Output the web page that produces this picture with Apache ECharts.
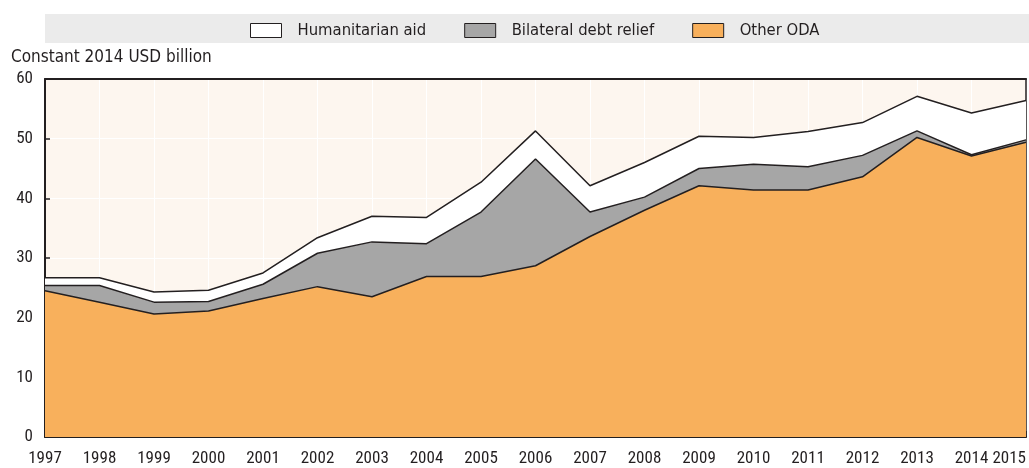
<!DOCTYPE html>
<html>
<head>
<meta charset="utf-8">
<script src="https://cdn.jsdelivr.net/npm/echarts@6/dist/echarts.min.js"></script>
<style>
  html, body { margin: 0; padding: 0; background: #fff; }
  #chart { width: 1029px; height: 468px; }
</style>
</head>
<body>
<div id="chart"></div>
<script>
// 数据 (Constant 2014 USD billion)
const years = ['1997', '1998', '1999', '2000', '2001', '2002', '2003', '2004', '2005', '2006',
  '2007', '2008', '2009', '2010', '2011', '2012', '2013', '2014', '2015'];
const otherOda = [24.5, 22.6, 20.6, 21.1, 23.2, 25.2, 23.5, 26.9, 26.9, 28.7,
  33.6, 38.0, 42.1, 41.4, 41.4, 43.6, 50.2, 47.1, 49.4];
const debtRelief = [0.9, 2.8, 2.0, 1.6, 2.4, 5.6, 9.2, 5.5, 10.8, 17.9,
  4.1, 2.2, 2.9, 4.3, 3.9, 3.6, 1.1, 0.2, 0.4];
const humanitarian = [1.3, 1.3, 1.7, 1.9, 1.9, 2.6, 4.3, 4.4, 5.0, 4.7,
  4.4, 5.8, 5.4, 4.5, 5.9, 5.5, 5.8, 7.0, 6.6];
const yTicks = [0, 10, 20, 30, 40, 50, 60];

const TICK_FONT = '"Roboto Condensed", "Liberation Sans Narrow", sans-serif';
const TEXT_FONT = '"DejaVu Sans Condensed", "DejaVu Sans", sans-serif';
const DARK = '#231f20';

const chart = echarts.init(document.getElementById('chart'));

// 每个系列共用的样式
function areaSeries(name, data, fill) {
  return {
    name: name,
    type: 'line',
    stack: 'oda',
    data: data,
    symbol: 'none',
    lineStyle: { color: DARK, width: 1.5 },
    itemStyle: { color: fill, borderColor: DARK, borderWidth: 1 },
    areaStyle: { color: fill, opacity: 1 },
    emphasis: { disabled: true }
  };
}

const option = {
  animation: false,
  textStyle: { fontFamily: TICK_FONT },
  graphic: [
    // 图例背景条
    { type: 'rect', left: 45, top: 14, shape: { width: 984, height: 29 }, style: { fill: '#ebebeb' }, z: -1 }
  ],
  title: {
    text: 'Constant 2014 USD billion',
    left: 11,
    top: 49,
    padding: 0,
    textStyle: { fontFamily: TEXT_FONT, fontSize: 17, fontWeight: 'normal', color: DARK }
  },
  legend: {
    data: ['Humanitarian aid', 'Bilateral debt relief', 'Other ODA'],
    left: 250,
    top: 22,
    padding: 0,
    itemWidth: 31,
    itemHeight: 14,
    itemGap: 38,
    icon: 'rect',
    itemStyle: { borderColor: DARK, borderWidth: 1 },
    textStyle: { fontFamily: TEXT_FONT, fontSize: 16.5, color: DARK, padding: [0, 0, 0, 11] }
  },
  grid: {
    left: 45,
    right: 1,
    top: 79,
    bottom: 31,
    show: true,
    backgroundColor: '#fdf6ef',
    borderWidth: 0
  },
  xAxis: [
    {
      type: 'category',
      data: years,
      boundaryGap: false,
      axisLine: { onZero: false, lineStyle: { color: DARK, width: 2 } },
      axisTick: { show: true, inside: true, length: 6, lineStyle: { color: DARK, width: 1.5 } },
      axisLabel: { color: DARK, fontSize: 17, margin: 13, interval: 0, alignMaxLabel: 'right' },
      splitLine: { show: true, lineStyle: { color: '#ffffff', width: 1 } }
    },
    {
      // 顶部边框
      type: 'category',
      position: 'top',
      data: years,
      boundaryGap: false,
      axisLine: { onZero: false, lineStyle: { color: DARK, width: 2 } },
      axisTick: { show: false },
      axisLabel: { show: false }
    }
  ],
  yAxis: [
    {
      type: 'value',
      min: yTicks[0],
      max: yTicks[yTicks.length - 1],
      interval: 10,
      axisLine: { show: true, onZero: false, lineStyle: { color: DARK, width: 2 } },
      axisTick: { show: true, inside: true, length: 5, lineStyle: { color: DARK, width: 1.5 } },
      axisLabel: { color: DARK, fontSize: 17, margin: 12 },
      splitLine: { show: true, lineStyle: { color: '#ffffff', width: 1 } }
    },
    {
      // 右侧边框
      type: 'value',
      position: 'right',
      min: yTicks[0],
      max: yTicks[yTicks.length - 1],
      axisLine: { show: true, onZero: false, lineStyle: { color: DARK, width: 1.5 } },
      axisTick: { show: false },
      axisLabel: { show: false },
      splitLine: { show: false }
    }
  ],
  series: [
    areaSeries('Other ODA', otherOda, '#f8b05c'),
    areaSeries('Bilateral debt relief', debtRelief, '#a6a6a6'),
    areaSeries('Humanitarian aid', humanitarian, '#ffffff')
  ]
};

chart.setOption(option);
</script>
</body>
</html>
